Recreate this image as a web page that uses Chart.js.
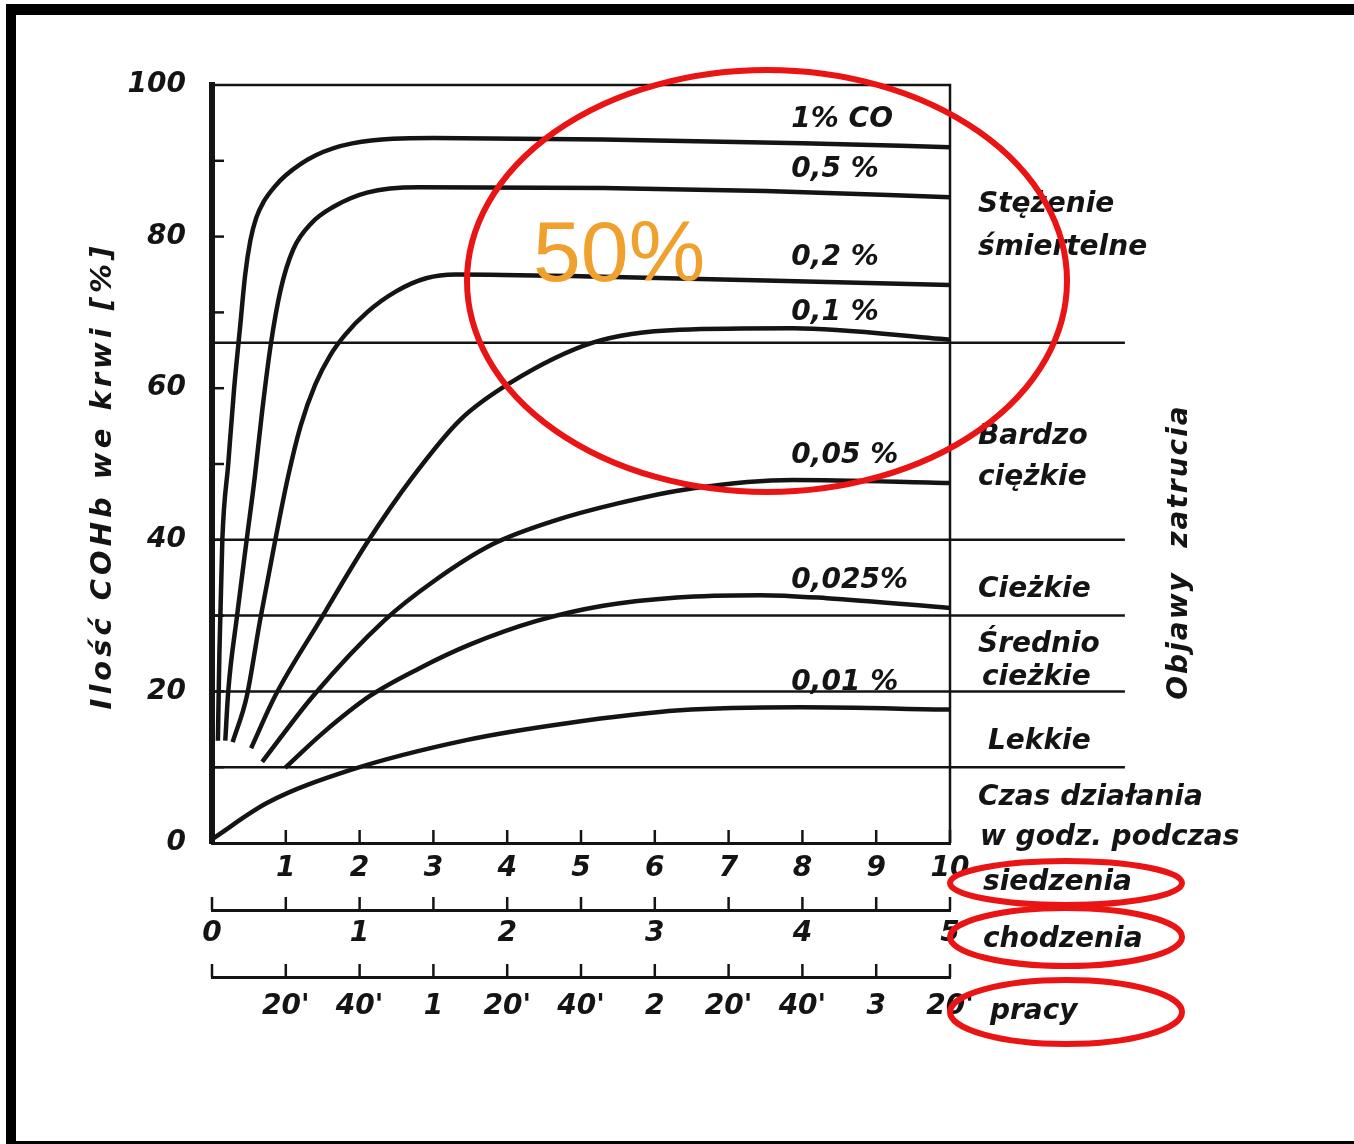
<!DOCTYPE html>
<html>
<head>
<meta charset="utf-8">
<script src="https://cdn.jsdelivr.net/npm/chart.js@4.4.0/dist/chart.umd.min.js"></script>
<style>
  html, body { margin: 0; padding: 0; background: #fff; }
  #wrap { width: 1354px; height: 1144px; }
</style>
</head>
<body>
<div id="wrap"><canvas id="coChart" width="1354" height="1144"></canvas></div>
<script>
// COHb in blood [%] vs exposure time (hours of sitting); one curve per CO concentration
const concLabels = ['1% CO', '0,5 %', '0,2 %', '0,1 %', '0,05 %', '0,025%', '0,01 %'];

const co1 = [[0.08,13.5],[0.1,25],[0.14,40],[0.22,50],[0.3,60],[0.38,68],[0.45,75],[0.52,79.5],[0.6,82.5],[0.7,84.6],[0.85,86.6],[1.0,88.1],[1.4,90.7],[1.9,92.3],[3,93],[5.3,92.8],[8,92.3],[10,91.8]];
const co05 = [[0.18,13.5],[0.22,20],[0.34,30],[0.47,40],[0.58,48.3],[0.68,57],[0.8,66],[0.93,73],[1.1,78.3],[1.35,81.8],[1.64,83.9],[2.1,85.8],[2.8,86.5],[5.3,86.4],[7.5,86],[10,85.2]];
const co02 = [[0.28,13.3],[0.47,19.3],[0.65,29.3],[0.85,39.6],[1.03,48.3],[1.2,55],[1.4,60.5],[1.6,64.3],[1.8,67],[2.1,70],[2.5,72.8],[2.9,74.5],[3.3,75],[5.3,74.7],[7.5,74.2],[10,73.6]];
const co01 = [[0.53,12.5],[0.85,19.3],[1.46,29.3],[2.1,39.6],[2.72,48.3],[3.36,55.8],[4.04,60.7],[5.16,66],[6.34,67.7],[7.87,67.9],[10,66.4]];
const co005 = [[0.68,10.7],[1.37,19.4],[2.34,29.4],[3.0,34.5],[3.8,39.4],[4.6,42.4],[5.5,44.8],[6.52,46.8],[7.87,47.9],[10,47.5]];
const co0025 = [[0.99,9.9],[1.5,14.5],[2.14,19.4],[2.8,23],[3.5,26.2],[4.4,29.3],[5.3,31.3],[6.3,32.4],[7.43,32.7],[8.33,32.3],[10,31]];
const co001 = [[0,0.5],[0.75,5.3],[1.87,9.6],[3.46,13.6],[4.81,15.8],[6.34,17.5],[7.97,17.9],[10,17.6]];
const curves = [co1, co05, co02, co01, co005, co0025, co001];

// poisoning symptom limits [% COHb]
const limits = [10, 20, 30, 40, 66];
const limitEnd = 12.37;

const sittingMax = 10;   // hours sitting
const walkingMax = 5;    // hours walking
const workMax = 200;     // minutes of work

const F = '"DejaVu Sans", sans-serif';
const INK = '#141414';

function pts(arr) { return arr.map(p => ({ x: p[0], y: p[1] })); }

const datasets = [];
limits.forEach(v => {
  datasets.push({ data: [{ x: 0, y: v }, { x: limitEnd, y: v }], borderColor: INK, borderWidth: 2.5, tension: 0, clip: false });
});
curves.forEach(c => {
  datasets.push({ data: pts(c), borderColor: INK, borderWidth: 4.5, cubicInterpolationMode: 'monotone', clip: false });
});

function workLabel(v) {
  if (v === 0) return '';
  return v % 60 === 0 ? String(v / 60) : (v % 60) + "'";
}

const tickFont = { family: F, size: 28, style: 'italic', weight: 'bold' };

const decor = {
  id: 'decor',
  afterDraw(chart) {
    const { ctx, chartArea: a, scales } = chart;
    const x = scales.x, y = scales.y;
    ctx.save();
    ctx.strokeStyle = INK;
    ctx.fillStyle = INK;
    ctx.lineCap = 'butt';

    // frame (top and right)
    const xr = x.getPixelForValue(sittingMax), yt = y.getPixelForValue(100), yb = y.getPixelForValue(0);
    ctx.lineWidth = 2.5;
    ctx.beginPath();
    ctx.moveTo(a.left, yt); ctx.lineTo(xr, yt); ctx.lineTo(xr, yb);
    ctx.stroke();

    // inward ticks on the y axis
    for (let v = 10; v < 100; v += 10) {
      const py = y.getPixelForValue(v);
      ctx.beginPath(); ctx.moveTo(a.left, py); ctx.lineTo(a.left + 12, py); ctx.stroke();
    }
    // upward ticks on the three time axes
    ['x', 'x2', 'x3'].forEach(id => {
      const s = scales[id];
      s.ticks.forEach(t => {
        const px = s.getPixelForValue(t.value);
        ctx.beginPath(); ctx.moveTo(px, s.top); ctx.lineTo(px, s.top - 13); ctx.stroke();
      });
    });

    // y axis title
    ctx.save();
    ctx.translate(103, 476);
    ctx.rotate(-Math.PI / 2);
    ctx.font = 'italic bold 29px ' + F;
    ctx.letterSpacing = '4px';
    ctx.textAlign = 'center';
    ctx.textBaseline = 'middle';
    ctx.fillText('Ilość COHb we krwi [%]', 0, 0);
    ctx.restore();

    // concentration labels above curve ends
    ctx.font = 'italic bold 28px ' + F;
    ctx.textBaseline = 'middle';
    ctx.textAlign = 'left';
    curves.forEach((c, i) => {
      const last = c[c.length - 1];
      ctx.fillText(concLabels[i], x.getPixelForValue(7.85), y.getPixelForValue(last[1]) - 27);
    });

    // symptom texts on the right
    const tx = xr + 28;
    const notes = [
      ['Stężenie', 0, 205], ['śmiertelne', 0, 248],
      ['Bardzo', 0, 437], ['ciężkie', 0, 478],
      ['Cieżkie', 0, 590],
      ['Średnio', 0, 645], ['cieżkie', 4, 678],
      ['Lekkie', 10, 742],
      ['Czas działania', 0, 798], ['w godz. podczas', 2, 838],
      ['siedzenia', 5, 883], ['chodzenia', 5, 940], ['pracy', 12, 1012]
    ];
    notes.forEach(n => ctx.fillText(n[0], tx + n[1], n[2]));

    ctx.save();
    ctx.translate(1180, 552);
    ctx.rotate(-Math.PI / 2);
    ctx.textAlign = 'center';
    ctx.letterSpacing = '2px';
    ctx.fillText('Objawy  zatrucia', 0, 0);
    ctx.restore();

    // orange note and red marks
    ctx.fillStyle = '#f0a02c';
    ctx.font = '86px "Liberation Sans", Arial, sans-serif';
    ctx.textBaseline = 'alphabetic';
    ctx.fillText('50%', 533, 281);

    ctx.strokeStyle = '#ea1414';
    ctx.lineWidth = 6;
    [[767, 281, 300, 211], [1066, 883, 116, 22], [1066, 937, 116, 29], [1066, 1012, 116, 32]].forEach(e => {
      ctx.beginPath(); ctx.ellipse(e[0], e[1], e[2], e[3], 0, 0, Math.PI * 2); ctx.stroke();
    });

    // picture border
    ctx.fillStyle = '#000';
    ctx.fillRect(6, 4, 1354, 11);
    ctx.fillRect(6, 4, 10, 1140);
    ctx.fillRect(6, 1141, 1354, 3);
    ctx.restore();
  }
};

new Chart(document.getElementById('coChart'), {
  type: 'scatter',
  data: { datasets: datasets },
  options: {
    responsive: false,
    animation: false,
    showLine: true,
    elements: { point: { radius: 0, hoverRadius: 0 } },
    layout: { padding: { left: 80, right: 404, top: 85, bottom: 107 } },
    plugins: { legend: { display: false }, tooltip: { enabled: false } },
    scales: {
      y: {
        min: 0, max: 100,
        afterFit: s => { s.width = 132; },
        grid: { display: false, drawTicks: false },
        border: { display: true, width: 6, color: INK },
        ticks: { stepSize: 20, padding: 26, color: INK, font: tickFont }
      },
      x: {
        type: 'linear', position: 'bottom', weight: 0,
        min: 0, max: sittingMax,
        afterFit: s => { s.height = 67; },
        grid: { display: false, drawTicks: false },
        border: { display: true, width: 3, color: INK },
        ticks: { stepSize: 1, padding: 9, autoSkip: false, maxRotation: 0, color: INK, font: tickFont,
          callback: v => v === 0 ? '' : String(v) }
      },
      x2: {
        type: 'linear', axis: 'x', position: 'bottom', weight: 1,
        min: 0, max: walkingMax,
        afterFit: s => { s.height = 67; },
        grid: { display: false, drawTicks: false },
        border: { display: true, width: 3, color: INK },
        ticks: { stepSize: 0.5, padding: 7, autoSkip: false, maxRotation: 0, color: INK, font: tickFont,
          callback: v => Number.isInteger(v) ? String(v) : '' }
      },
      x3: {
        type: 'linear', axis: 'x', position: 'bottom', weight: 2,
        min: 0, max: workMax,
        afterFit: s => { s.height = 60; },
        grid: { display: false, drawTicks: false },
        border: { display: true, width: 3, color: INK },
        ticks: { stepSize: 20, padding: 13, autoSkip: false, maxRotation: 0, color: INK, font: tickFont,
          callback: v => workLabel(v) }
      }
    }
  },
  plugins: [decor]
});
</script>
</body>
</html>
